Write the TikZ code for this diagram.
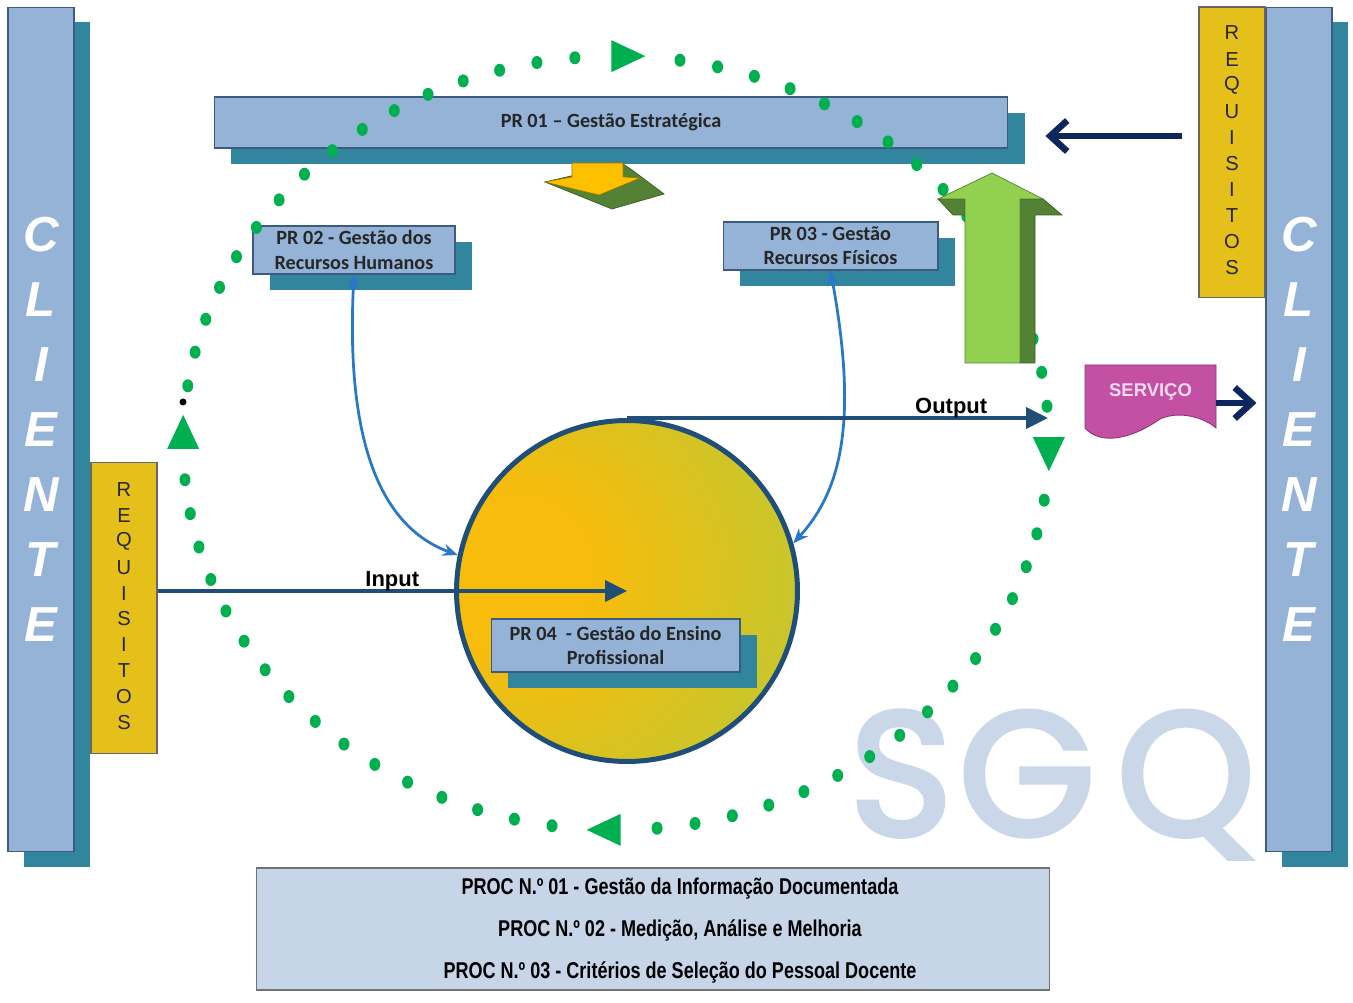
\documentclass[tikz,border=0pt]{standalone}
\usepackage{fontspec}
\setmainfont{Liberation Sans}
\newfontfamily\calibrito{Carlito}
\newfontfamily\estreito[FakeStretch=0.79]{Liberation Sans}
\newfontfamily\redondo[FakeBold=3]{Poppins}
\usetikzlibrary{arrows.meta,shadows}
\definecolor{azulcinza}{RGB}{149,179,215}
\definecolor{azulclaro}{RGB}{198,213,232}
\definecolor{bordinha}{RGB}{61,90,128}
\definecolor{tealzinho}{RGB}{49,133,156}
\definecolor{amarelinho}{RGB}{230,192,26}
\definecolor{verdinho}{RGB}{0,176,80}
\definecolor{marinho}{RGB}{14,38,94}
\definecolor{azulescuro}{RGB}{31,78,121}
\definecolor{azulvivo}{RGB}{40,120,200}
\definecolor{roxinho}{RGB}{195,80,163}
\definecolor{rosinha}{RGB}{248,220,238}
\definecolor{verdeclaro}{RGB}{146,208,80}
\definecolor{verdeescuro}{RGB}{84,130,53}
\definecolor{ourinho}{RGB}{255,192,0}
\definecolor{marcadagua}{RGB}{201,215,233}
\definecolor{pr4dentro}{RGB}{247,188,12}
\definecolor{pr4fora}{RGB}{168,205,66}
\pgfdeclareradialshading{pr4shade}{\pgfpoint{-20bp}{3bp}}{color(0bp)=(pr4dentro); color(12bp)=(pr4dentro); color(52bp)=(pr4fora); color(80bp)=(pr4fora)}
\tikzset{
  caixabase/.style={draw=bordinha, line width=0.6pt, fill=azulcinza, inner sep=0pt, align=center},
  caixa/.style={caixabase, general shadow={fill=tealzinho, shadow xshift=0.34cm, shadow yshift=-0.32cm}},
  prtexto/.style={font=\calibrito\bfseries\fontsize{11.5}{13.7}\selectfont, text=black!85},
  cliente/.style={caixabase, minimum width=1.32cm, minimum height=16.9cm, general shadow={fill=tealzinho, shadow xshift=0.32cm, shadow yshift=-0.3cm}},
  requisito/.style={draw=black!60, line width=0.6pt, fill=amarelinho, minimum width=1.32cm, inner sep=0pt},
  letra/.style={font=\bfseries\itshape\fontsize{28}{28}\selectfont, text=white, inner sep=0pt},
  reqletra/.style={font=\fontsize{11.5}{11.5}\selectfont, text=black!85, inner sep=0pt},
  seta/.style={draw=azulescuro, line width=0.08cm, arrows={-Triangle[length=0.44cm,width=0.42cm]}},
  setaclara/.style={draw=azulvivo, line width=0.055cm, arrows={Stealth[length=0.3cm,width=0.24cm]-Stealth[length=0.3cm,width=0.24cm]}},
  setamarinho/.style={draw=marinho, line width=0.13cm, arrows={-Straight Barb[length=0.34cm,width=0.62cm]}},
  rotulo/.style={font=\bfseries\fontsize{12.5}{12.5}\selectfont, inner sep=0pt},
  marca/.style={font=\redondo\fontsize{100}{100}\selectfont, text=marcadagua, inner sep=0pt, anchor=base}
}
\begin{document}
\begin{tikzpicture}[x=0.02cm, y=-0.02cm]
	\fill[white] (0,0) rectangle (1353,1003);
	\useasboundingbox (0,0) rectangle (1353,1003);

	% marca d'agua
	\node[marca] (sgq1) at (901,835) {S};
	\node[marca] (sgq2) at (1027,835) {G};
	\node[marca] (sgq3) at (1186,835) {Q};

	% clientes e requisitos
	\node[cliente] (clienteesq) at (41,429.5) {};
	\node[cliente] (clientedir) at (1299,429.5) {};
	\foreach \l [count=\i] in {C,L,I,E,N,T,E} {
		\node[letra] (ce\i) at (41,{170+65*\i}) {\l};
		\node[letra] (cd\i) at (1299,{170+65*\i}) {\l};
	}
	\node[requisito, minimum height=5.84cm] (reqesq) at (124,608) {};
	\node[requisito, minimum height=5.82cm] (reqdir) at (1232,152.5) {};
	\foreach \l [count=\i] in {R,E,Q,U,I,S,I,T,O,S} {
		\node[reqletra] (re\i) at (124,{464.2+25.8*\i}) {\l};
		\node[reqletra] (rd\i) at (1232,{6.9+26.1*\i}) {\l};
	}

	% processos
	\node[caixa, prtexto, minimum width=15.88cm, minimum height=1.02cm] (pr1) at (611,122.5) {PR 01 – Gestão Estratégica};
	\node[caixa, prtexto, minimum width=4.04cm, minimum height=0.96cm] (pr2) at (354,250) {PR 02 - Gestão dos\\Recursos Humanos};
	\node[caixa, prtexto, minimum width=4.3cm, minimum height=0.96cm] (pr3) at (830.5,246) {PR 03 - Gestão\\Recursos Físicos};
	\node[circle, draw=azulescuro, line width=0.1cm, minimum size=6.82cm, inner sep=0pt, shade, shading=pr4shade] (pr4circ) at (627,591) {};
	\node[caixa, prtexto, minimum width=4.98cm, minimum height=1.06cm] (pr4) at (615.5,645.5) {PR 04\ \ - Gestão do Ensino\\Profissional};

	\node[caixabase, fill=azulclaro, draw=black!55, minimum width=15.88cm, minimum height=2.44cm] (proc) at (653,929) {};
	\node[font=\estreito\bfseries\fontsize{13}{23.9}\selectfont, align=center, inner sep=0pt] (proctexto) at (680,931) {PROC N.º 01 - Gestão da Informação Documentada\\PROC N.º 02 - Medição, Análise e Melhoria\\PROC N.º 03 - Critérios de Seleção do Pessoal Docente};

	% servico
	\filldraw[fill=roxinho, draw=roxinho!70!black, line width=0.5pt] (1085,365) -- (1216,365) -- (1216,428) .. controls (1205,418) and (1180,410) .. (1160,419) .. controls (1130,440) and (1100,445) .. (1085,428) -- cycle;
	\node[font=\bfseries\fontsize{10.5}{10.5}\selectfont, text=rosinha, minimum width=2.62cm, inner sep=0pt] (servico) at (1150.5,392) {SERVIÇO};

	% setas
	\draw[setaclara] (pr2.south) .. controls (346,430) and (375,525) .. (pr4circ.168);
	\draw[setaclara] (pr3.south) .. controls (858,420) and (842,490) .. (pr4circ.16);
	\draw[seta] (reqesq.east |- pr4circ.center) -- (pr4circ.center) node[rotulo, midway, anchor=base, yshift=2.5pt] {Input};
	\coordinate (saida) at (1048,421);
	\draw[seta] (pr4circ.north) -- (pr4circ.north -| saida) node[rotulo, pos=0.77, anchor=base, yshift=2.5pt] {Output};
	\coordinate (alturareq) at (0,136);
	\draw[setamarinho, shorten <=0.32cm, shorten >=0.74cm] (reqdir.west |- alturareq) -- (pr1.east |- alturareq);
	\coordinate (servsai) at ([yshift=-0.22cm]servico.east);
	\draw[setamarinho, shorten >=0.18cm] (servsai) -- (servsai -| clientedir.west);

	% ciclo pontilhado
	\foreach \t in {-88.5,1.5,91.5,181.5} {
		\foreach \k in {0,...,15} {
			\fill[verdinho] ({616+433*cos(\t+7+5.07*\k)},{443+387*sin(\t+7+5.07*\k)}) circle[x radius=5.5, y radius=6.5];
		}
	}
	\foreach \t/\r in {-88.5/0, 1.5/-90, 91.5/180, 181.5/90}
		\fill[verdinho, shift={({616+433*cos(\t)},{443+387*sin(\t)})}, rotate=\r] (18,0) -- (-16,-16) -- (-16,16) -- cycle;
	\fill[black] (183,402) circle[radius=3.5];

	% setas grandes
	\filldraw[fill=verdeescuro, draw=verdeescuro!70!black, line width=0.4pt] (545,182) -- (612,209) -- (664,194) -- (632,170) -- (623,164) -- cycle;
	\filldraw[fill=ourinho, draw=ourinho!60!black, line width=0.3pt] (572,163) -- (623,163) -- (623,177) -- (640,178) -- (599,195) -- (545,182) -- (572,177) -- cycle;
	\filldraw[fill=verdeescuro, draw=verdeescuro!70!black, line width=0.4pt] (1020,199) -- (1043,199) -- (1062,215) -- (1035,215) -- (1035,363) -- (1020,363) -- cycle;
	\filldraw[fill=verdeescuro, draw=verdeescuro!70!black, line width=0.4pt] (938,199) -- (965,199) -- (965,215) -- (953,215) -- cycle;
	\filldraw[fill=verdeclaro, draw=verdeescuro, line width=0.4pt] (965,363) -- (965,199) -- (938,199) -- (992,173) -- (1043,199) -- (1020,199) -- (1020,363) -- cycle;

\end{tikzpicture}
\end{document}
